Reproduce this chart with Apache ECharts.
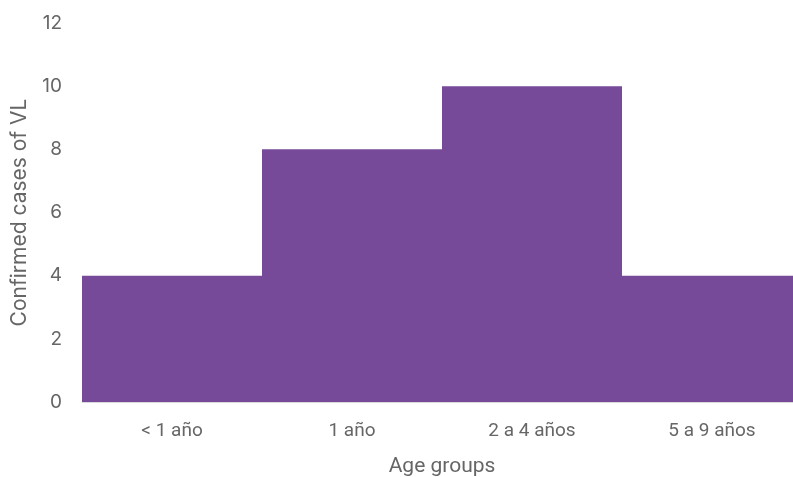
<!DOCTYPE html>
<html>
<head>
<meta charset="utf-8">
<script src="https://cdn.jsdelivr.net/npm/echarts@6/dist/echarts.min.js"></script>
<style>html,body{margin:0;padding:0;background:#fff}#c{width:793px;height:477px}</style>
</head>
<body>
<div id="c"></div>
<script>
const categories = ['< 1 año', '1 año', '2 a 4 años', '5 a 9 años'];
const cases = [4, 8, 10, 4];
const yTicks = [0, 2, 4, 6, 8, 10, 12];

const chart = echarts.init(document.getElementById('c'), null, {renderer: 'canvas'});
chart.setOption({
  animation: false,
  backgroundColor: '#ffffff',
  grid: {left: 82, width: 720, top: 23, bottom: 75, containLabel: false, outerBoundsMode: 'none'},
  xAxis: {
    type: 'category',
    data: categories,
    name: 'Age groups',
    nameLocation: 'middle',
    nameGap: 54,
    nameTextStyle: {color: '#666666', fontSize: 21, fontFamily: 'Roboto, Inter, sans-serif'},
    axisLine: {show: true, lineStyle: {color: '#d9d9d9', width: 1}},
    axisTick: {show: false},
    axisLabel: {color: '#666666', fontSize: 19, margin: 20, fontFamily: 'Roboto, sans-serif'}
  },
  yAxis: {
    type: 'value',
    min: 0, max: 12, interval: 2,
    name: 'Confirmed cases of VL',
    nameLocation: 'middle',
    nameGap: 52,
    nameRotate: 90,
    nameTextStyle: {color: '#666666', fontSize: 21, fontFamily: 'Inter, Noto Sans, sans-serif'},
    axisLine: {show: false},
    axisTick: {show: false},
    splitLine: {show: false},
    axisLabel: {color: '#666666', fontSize: 19, margin: 20, fontFamily: 'Inter, Noto Sans, sans-serif',
      formatter: v => yTicks.includes(v) ? String(v) : ''}
  },
  series: [{
    type: 'bar',
    data: cases,
    barWidth: '100%',
    barCategoryGap: '0%',
    itemStyle: {color: '#764a98'}
  }]
});
</script>
</body>
</html>
